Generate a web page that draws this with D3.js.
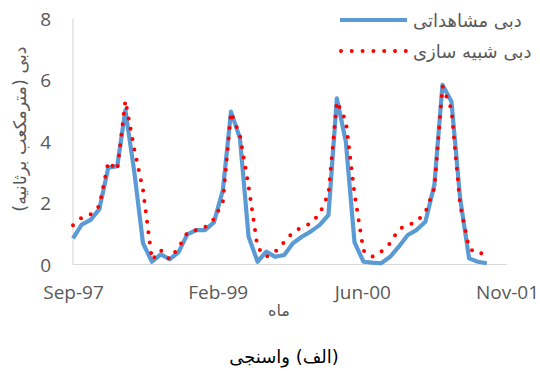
<!DOCTYPE html>
<html>
<head>
<meta charset="utf-8">
<script src="https://cdn.jsdelivr.net/npm/d3@7"></script>
<style>
  html, body { margin: 0; padding: 0; background: #ffffff; }
  svg { display: block; }
</style>
</head>
<body>
<svg id="chart" width="540" height="371"></svg>
<script>
// ---- data (monthly, water years starting Mehr 1376 = 23 Sep 1997) ----
const startDate = "1997-09-23";
const observed = [
  0.85, 1.30, 1.45, 1.80, 3.15, 3.20, 5.02, 3.00, 0.69, 0.09, 0.33, 0.17,
  0.40, 0.98, 1.12, 1.12, 1.37, 2.42, 4.97, 4.10, 0.90, 0.09, 0.42, 0.25,
  0.31, 0.69, 0.90, 1.07, 1.28, 1.61, 5.40, 4.00, 0.72, 0.09, 0.06, 0.04,
  0.25, 0.58, 0.96, 1.12, 1.39, 2.59, 5.84, 5.30, 2.15, 0.20, 0.09, 0.04
];
const simulated = [
  1.28, 1.52, 1.63, 1.90, 3.34, 3.07, 5.33, 3.75, 2.42, 0.15, 0.47, 0.17,
  0.55, 1.03, 1.12, 1.21, 1.47, 2.05, 4.95, 4.20, 2.53, 0.55, 0.25, 0.42,
  0.73, 1.05, 1.21, 1.33, 1.64, 2.30, 5.30, 4.67, 2.30, 0.45, 0.25, 0.42,
  0.69, 1.15, 1.28, 1.39, 1.70, 2.48, 5.80, 5.05, 1.93, 0.53, 0.34, 0.40
];
const xTickDates = ["1997-09-23", "1999-02-05", "2000-06-19", "2001-11-01"];
const xTickLabels = ["Sep-97", "Feb-99", "Jun-00", "Nov-01"];
const yTicks = [0, 2, 4, 6, 8];
const seriesNames = ["دبی مشاهداتی", "دبی شبیه سازی"];
const yTitle = "دبی (مترمکعب برثانیه)";
const xTitle = "ماه";
const caption = "(الف) واسنجی";

// ---- layout ----
const svg = d3.select("#chart");
const plot = { left: 73, right: 507, top: 18.5, bottom: 264.5 };
const parse = d3.utcParse("%Y-%m-%d");
const t0 = parse(startDate);
const xDomainEnd = parse(xTickDates[xTickDates.length - 1]);

const x = d3.scaleUtc().domain([t0, xDomainEnd]).range([plot.left, plot.right]);
const y = d3.scaleLinear().domain([0, 8]).range([plot.bottom, plot.top]);

const dates = observed.map((_, i) => d3.utcMonth.offset(t0, i));

const latinFont = "'Open Sans', 'Liberation Sans', sans-serif";
const arabicFont = "'DejaVu Sans', sans-serif";
const grey = "#595959";

// axis lines
svg.append("line")
  .attr("x1", plot.left).attr("x2", plot.right)
  .attr("y1", y(0)).attr("y2", y(0))
  .attr("stroke", "#d9d9d9").attr("stroke-width", 1.2);
svg.append("line")
  .attr("x1", plot.left).attr("x2", plot.left)
  .attr("y1", y(8)).attr("y2", y(0))
  .attr("stroke", "#d9d9d9").attr("stroke-width", 1.2);

// y ticks
const yAxis = d3.axisLeft(y).tickValues(yTicks).tickSize(0).tickPadding(0);
const gy = svg.append("g").attr("transform", "translate(51,0)").call(yAxis);
gy.select(".domain").remove();
gy.selectAll("text")
  .attr("font-family", latinFont).attr("font-size", 19)
  .attr("fill", grey).attr("dy", "0.35em");

// x ticks
const tickDates = xTickDates.map(parse);
const xAxis = d3.axisBottom(x).tickValues(tickDates).tickSize(0).tickPadding(0)
  .tickFormat((d, i) => xTickLabels[i]);
const gx = svg.append("g").attr("transform", "translate(0,299)").call(xAxis);
gx.select(".domain").remove();
gx.selectAll("text")
  .attr("font-family", latinFont).attr("font-size", 19)
  .attr("fill", grey).attr("dy", 0);

// lines
const line = d3.line().x((d, i) => x(dates[i])).y(d => y(d));

svg.append("path").datum(observed)
  .attr("d", line)
  .attr("fill", "none").attr("stroke", "#5b9bd5")
  .attr("stroke-width", 4.2).attr("stroke-linejoin", "round");

svg.append("path").datum(simulated)
  .attr("d", line)
  .attr("fill", "none").attr("stroke", "#ff0000")
  .attr("stroke-width", 4).attr("stroke-linecap", "round")
  .attr("stroke-dasharray", "0 10.5");

// legend
const lg = svg.append("g");
lg.append("line").attr("x1", 340).attr("x2", 407).attr("y1", 20).attr("y2", 20)
  .attr("stroke", "#5b9bd5").attr("stroke-width", 4.2);
lg.append("line").attr("x1", 341).attr("x2", 406).attr("y1", 51).attr("y2", 51)
  .attr("stroke", "#ff0000").attr("stroke-width", 4)
  .attr("stroke-linecap", "round").attr("stroke-dasharray", "0 10.8");
lg.selectAll("text.leg").data(seriesNames).enter().append("text")
  .attr("class", "leg")
  .attr("y", (d, i) => 21 + i * 31)
  .attr("dy", "0.35em")
  .attr("direction", "rtl")
  .attr("text-anchor", "middle")
  .attr("font-family", arabicFont).attr("font-size", 18)
  .attr("fill", grey)
  .text(d => d)
  .each(function () {
    const w = this.getComputedTextLength();
    d3.select(this).attr("x", 413 + w / 2);
  });

// y title
svg.append("text")
  .attr("transform", "translate(20,129) rotate(-90)")
  .attr("direction", "rtl")
  .attr("text-anchor", "middle").attr("dy", "0.35em")
  .attr("font-family", arabicFont).attr("font-size", 17.5)
  .attr("fill", grey)
  .text(yTitle);

// x title
svg.append("text")
  .attr("x", 279).attr("y", 316)
  .attr("direction", "rtl")
  .attr("text-anchor", "middle")
  .attr("font-family", arabicFont).attr("font-size", 16)
  .attr("fill", grey)
  .text(xTitle);

// caption
svg.append("text")
  .attr("x", 284).attr("y", 363)
  .attr("direction", "rtl")
  .attr("text-anchor", "middle")
  .attr("font-family", arabicFont).attr("font-size", 18)
  .attr("fill", "#000000")
  .text(caption);
</script>
</body>
</html>
